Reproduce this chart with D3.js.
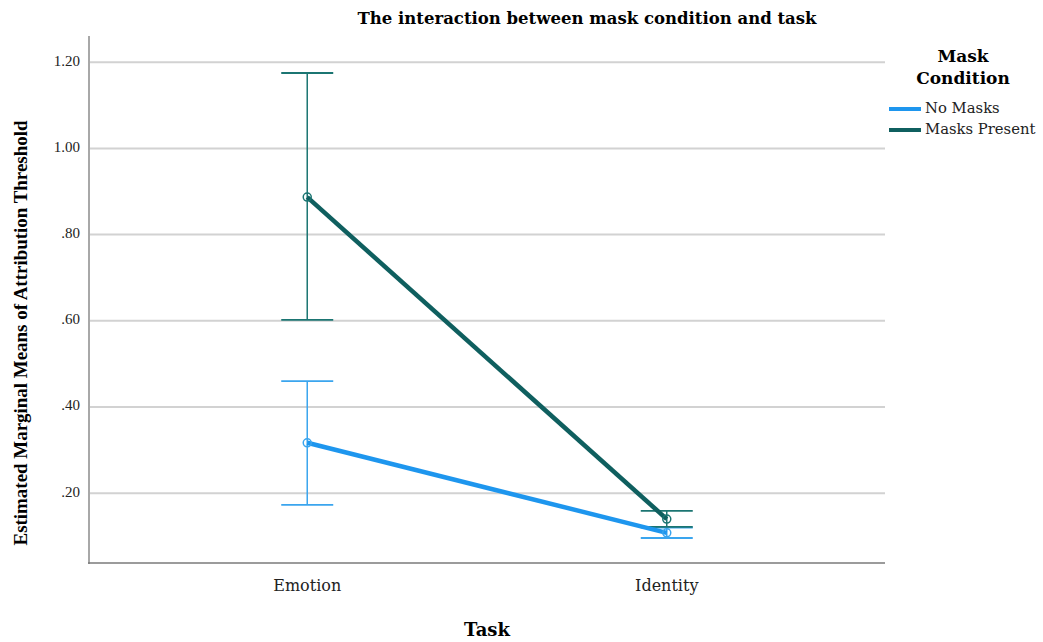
<!DOCTYPE html>
<html>
<head>
<meta charset="utf-8">
<script src="https://cdn.jsdelivr.net/npm/d3@7"></script>
<style>
  body { margin: 0; background: #fff; }
  svg text { font-family: "DejaVu Serif", "Liberation Serif", serif; }
</style>
</head>
<body>
<svg id="chart"></svg>
<script>
const tasks = ["Emotion", "Identity"]
const seriesNames = ["No Masks", "Masks Present"]
const seriesColors = ["#1e96ee", "#0f5f5f"]
const barColors = ["#3aa5ee", "#1b7572"]
// means and 95% CI per series, in task order
const noMasksMean = [0.317, 0.108]
const noMasksLow = [0.173, 0.096]
const noMasksHigh = [0.460, 0.120]
const masksMean = [0.887, 0.140]
const masksLow = [0.602, 0.122]
const masksHigh = [1.175, 0.159]
const yTicks = [0.2, 0.4, 0.6, 0.8, 1.0, 1.2]

const series = [
    {name: seriesNames[0], mean: noMasksMean, low: noMasksLow, high: noMasksHigh},
    {name: seriesNames[1], mean: masksMean, low: masksLow, high: masksHigh}
]

const width = 1043, height = 642
const plotLeft = 89, plotRight = 885, plotTop = 36, plotBottom = 563

const svg = d3.select("#chart").attr("width", width).attr("height", height)

const x = d3.scalePoint().domain(tasks).range([plotLeft, plotRight]).padding(0.607)
const y = d3.scaleLinear().domain([0, 1.2]).range([579.4, 579.4 - 431 * 1.2])

const fmt = d => d >= 1 ? d.toFixed(2) : d.toFixed(2).replace(/^0/, "")

// grid
svg.append("g").selectAll("line").data(yTicks).join("line")
    .attr("x1", plotLeft).attr("x2", plotRight)
    .attr("y1", d => y(d)).attr("y2", d => y(d))
    .attr("stroke", "#d2d2d2").attr("stroke-width", 2)

// axes lines
svg.append("line").attr("x1", plotLeft).attr("x2", plotLeft).attr("y1", plotTop).attr("y2", plotBottom + 1)
    .attr("stroke", "#a8a8a8").attr("stroke-width", 2)
svg.append("line").attr("x1", plotLeft - 1).attr("x2", plotRight).attr("y1", plotBottom).attr("y2", plotBottom)
    .attr("stroke", "#7a7a7a").attr("stroke-width", 1.5)

// y tick labels
svg.append("g").selectAll("text").data(yTicks).join("text")
    .text(fmt)
    .attr("x", 80).attr("y", d => y(d))
    .attr("text-anchor", "end").attr("dominant-baseline", "middle")
    .style("font-family", "Liberation Serif")
    .attr("font-size", 15).attr("fill", "#222")

// x tick labels
svg.append("g").selectAll("text").data(tasks).join("text")
    .text(d => d)
    .attr("x", d => x(d)).attr("y", 591)
    .attr("text-anchor", "middle")
    .attr("font-size", 16).attr("fill", "#222")

// titles
svg.append("text").text("The interaction between mask condition and task")
    .attr("x", 587).attr("y", 24).attr("text-anchor", "middle")
    .attr("font-weight", "bold").attr("font-size", 16)
    .attr("textLength", 459).attr("lengthAdjust", "spacingAndGlyphs")
svg.append("text").text("Task")
    .attr("x", 487).attr("y", 636).attr("text-anchor", "middle")
    .attr("font-weight", "bold").attr("font-size", 18)
svg.append("text").text("Estimated Marginal Means of Attribution Threshold")
    .attr("transform", `translate(27, 333) rotate(-90)`)
    .attr("text-anchor", "middle")
    .style("font-family", "Liberation Serif")
    .attr("font-weight", "bold").attr("font-size", 19)
    .attr("textLength", 425).attr("lengthAdjust", "spacingAndGlyphs")

// error bars
const cap = 26
series.forEach((s, i) => {
    const g = svg.append("g")
    tasks.forEach((t, j) => {
        const cx = x(t)
        g.append("line").attr("x1", cx).attr("x2", cx)
            .attr("y1", y(s.low[j])).attr("y2", y(s.high[j]))
            .attr("stroke", barColors[i]).attr("stroke-width", 1.5)
        for (const v of [s.low[j], s.high[j]]) {
            g.append("line").attr("x1", cx - cap).attr("x2", cx + cap)
                .attr("y1", y(v)).attr("y2", y(v))
                .attr("stroke", barColors[i]).attr("stroke-width", 1.8)
        }
    })
})

// lines and points
const line = d3.line().x(d => x(d.t)).y(d => y(d.v))
series.forEach((s, i) => {
    const pts = tasks.map((t, j) => ({t: t, v: s.mean[j]}))
    svg.append("path").datum(pts).attr("d", line)
        .attr("fill", "none").attr("stroke", seriesColors[i]).attr("stroke-width", 4.5)
    svg.append("g").selectAll("circle").data(pts).join("circle")
        .attr("cx", d => x(d.t)).attr("cy", d => y(d.v)).attr("r", 4)
        .attr("fill", "none").attr("stroke", barColors[i]).attr("stroke-width", 1.5)
})

// legend
svg.append("text").text("Mask").attr("x", 963).attr("y", 62)
    .attr("text-anchor", "middle").attr("font-weight", "bold").attr("font-size", 17)
svg.append("text").text("Condition").attr("x", 963).attr("y", 84)
    .attr("text-anchor", "middle").attr("font-weight", "bold").attr("font-size", 17)
const legend = svg.append("g").selectAll("g").data(series).join("g")
    .attr("transform", (d, i) => `translate(889, ${109 + i * 21})`)
legend.append("line").attr("x1", 0).attr("x2", 32).attr("y1", 0).attr("y2", 0)
    .attr("stroke", (d, i) => seriesColors[i]).attr("stroke-width", 4)
legend.append("text").text(d => d.name).attr("x", 36).attr("y", 0)
    .attr("dominant-baseline", "middle").attr("font-size", 14.8).attr("fill", "#222")
</script>
</body>
</html>
